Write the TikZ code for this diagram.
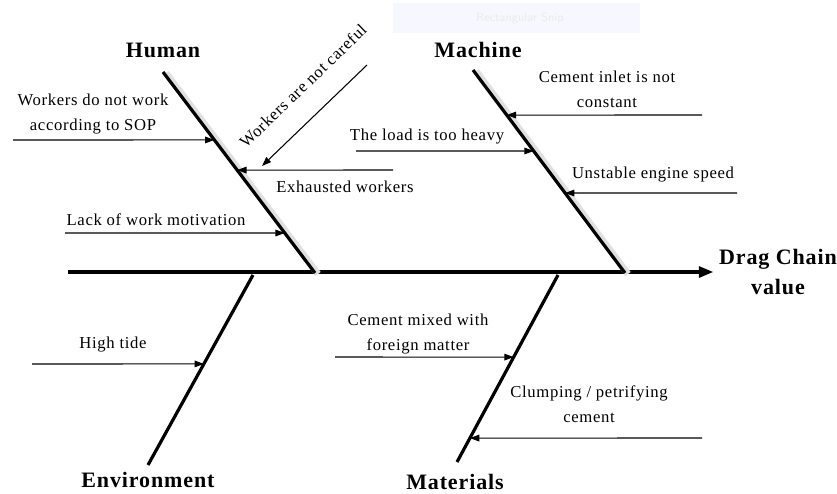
\documentclass[tikz,border=0pt]{standalone}
\usepackage{fontspec}
\setmainfont{Liberation Serif}[LetterSpace=4]
\usetikzlibrary{arrows.meta}

\begin{document}
\begin{tikzpicture}[x=0.75pt, y=-0.75pt,
		cause/.style={-{Triangle[length=7pt, width=5pt]}, line width=0.8pt},
		bone/.style={line width=2.4pt},
		boneshade/.style={line width=5pt, black!12},
		txt/.style={font=\fontsize{12.5}{18.75}\selectfont, align=center, inner sep=0pt},
		head/.style={font=\fontsize{16.5}{23}\selectfont\bfseries, align=center, inner sep=0pt}]
		\useasboundingbox (0, 0) rectangle (837, 493);
		% faint snip bar
		\fill[blue!3] (393, 3) rectangle (640, 33);
		\node[text=black!8, font=\sffamily\small] (snip) at (520, 18) {Rectangular Snip};
		% spine
		\coordinate (tail) at (68, 272);
		\node[head] (effect) at (778, 272) {Drag Chain\\value};
		\draw[line width=3pt, -{Triangle[length=11pt, width=8pt]}] (tail) -- ([xshift=-4pt]effect.west);
		% bones
		\coordinate (h0) at (163, 72);
		\coordinate (h1) at (315, 273);
		\coordinate (m0) at (473, 70);
		\coordinate (m1) at (625, 273);
		\coordinate (e0) at (253, 275);
		\coordinate (e1) at (148, 465);
		\coordinate (t0) at (558, 275);
		\coordinate (t1) at (457, 462);
		\draw[boneshade] ([shift={(3, 1)}]h0) -- ([shift={(3, 1)}]h1);
		\draw[boneshade] ([shift={(3, 1)}]m0) -- ([shift={(3, 1)}]m1);
		\draw[bone] (h0) -- (h1)
		coordinate[pos=0.338] (h-a)
		coordinate[pos=0.488] (h-b)
		coordinate[pos=0.801] (h-c);
		\draw[bone] (m0) -- (m1)
		coordinate[pos=0.222] (m-a)
		coordinate[pos=0.399] (m-b)
		coordinate[pos=0.606] (m-c);
		\draw[bone] (e0) -- (e1)
		coordinate[pos=0.468] (e-a);
		\draw[bone] (t0) -- (t1)
		coordinate[pos=0.439] (t-a)
		coordinate[pos=0.872] (t-b);
		% categories
		\node[head] (human) at (163, 50) {Human};
		\node[head] (machine) at (478, 50) {Machine};
		\node[head] (environment) at (148, 480) {Environment};
		\node[head] (materials) at (455, 482) {Materials};
		% causes
		\node[txt] (sop) at (93, 114) {Workers do not work\\according to SOP};
		\node[txt, rotate=44] (careful) at (303, 86) {Workers are not careful};
		\node[txt] (exhausted) at (345, 187) {Exhausted workers};
		\node[txt] (motivation) at (156, 220) {Lack of work motivation};
		\node[txt] (inlet) at (607, 89) {Cement inlet is not\\constant};
		\node[txt] (load) at (427, 137) {The load is too heavy};
		\node[txt] (engine) at (653, 175) {Unstable engine speed};
		\node[txt] (tide) at (113, 345) {High tide};
		\node[txt] (foreign) at (418, 334) {Cement mixed with\\foreign matter};
		\node[txt] (clumping) at (589, 404) {Clumping / petrifying\\cement};
		% arrows
		\coordinate (sop-s) at (13, 140);
		\coordinate (careful-s) at (367, 65);
		\coordinate (careful-e) at (262, 166);
		\coordinate (exhausted-s) at (393, 170);
		\coordinate (motivation-s) at (65, 233);
		\coordinate (inlet-s) at (702, 115);
		\coordinate (load-s) at (356, 151);
		\coordinate (engine-s) at (737, 193);
		\coordinate (tide-s) at (32, 364);
		\coordinate (foreign-s) at (335, 357);
		\coordinate (clumping-s) at (702, 438);
		\draw[cause] (sop-s) -- (h-a);
		\draw[cause] (careful-s) -- (careful-e);
		\draw[cause] (exhausted-s) -- (h-b);
		\draw[cause] (motivation-s) -- (h-c);
		\draw[cause] (inlet-s) -- (m-a);
		\draw[cause] (load-s) -- (m-b);
		\draw[cause] (engine-s) -- (m-c);
		\draw[cause] (tide-s) -- (e-a);
		\draw[cause] (foreign-s) -- (t-a);
		\draw[cause] (clumping-s) -- (t-b);
	\end{tikzpicture}
\end{document}
